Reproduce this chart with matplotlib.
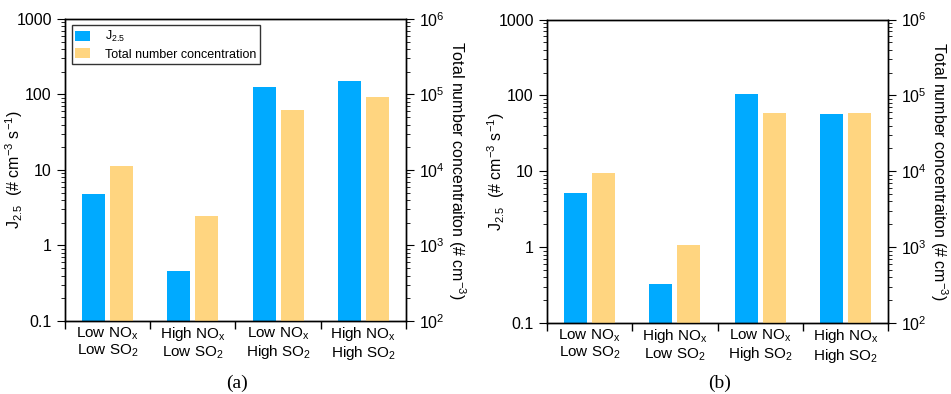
import matplotlib
matplotlib.use("Agg")
import matplotlib.pyplot as plt
import numpy as np
from matplotlib.ticker import LogLocator, NullFormatter, FixedLocator, FuncFormatter

plt.rcParams['font.family'] = ['Liberation Sans', 'DejaVu Sans']
plt.rcParams['mathtext.fontset'] = 'custom'
plt.rcParams['mathtext.rm'] = 'Liberation Sans'
plt.rcParams['mathtext.it'] = 'Liberation Sans'
plt.rcParams['mathtext.default'] = 'regular'

categories = ["Low NO$_x$\nLow SO$_2$", "High NO$_x$\nLow SO$_2$",
              "Low NO$_x$\nHigh SO$_2$", "High NO$_x$\nHigh SO$_2$"]
j25_a = [4.8, 0.456, 125, 152]
total_a = [1.14e4, 2.44e3, 6.15e4, 9.24e4]
j25_b = [5.2, 0.329, 103, 57.5]
total_b = [9.46e3, 1.07e3, 5.87e4, 5.87e4]
panel_labels = ["(a)", "(b)"]

blue = "#00AAFF"
orange = "#FFD580"

fig = plt.figure(figsize=(9.51, 3.94), dpi=100)
positions = [[0.0683, 0.1853, 0.3586, 0.7665], [0.5752, 0.180, 0.3586, 0.7705]]
data = [(j25_a, total_a), (j25_b, total_b)]

x = np.arange(len(categories))
w = 0.27
off = 0.165
fs = 11.5

for i, (pos, (j, t)) in enumerate(zip(positions, data)):
    ax = fig.add_axes(pos)
    ax2 = ax.twinx()
    ax.set_yscale('log')
    ax2.set_yscale('log')
    b1 = ax.bar(x - off, j, width=w, color=blue, label="J$_{2.5}$")
    b2 = ax2.bar(x + off, t, width=w, color=orange, label="Total number concentration")
    ax.set_ylim(0.1, 1000)
    ax2.set_ylim(1e2, 1e6)
    ax.set_xlim(-0.5, 3.5)
    ax.set_xticks(x)
    ax.set_xticklabels(categories, fontsize=11, linespacing=1.1)
    ax.tick_params(axis='x', length=0, pad=3)
    ax.set_xticks(np.arange(-0.5, 4, 1), minor=True)
    ax.tick_params(axis='x', which='minor', length=6, direction='out', width=1)
    ax.tick_params(axis='y', which='major', length=6, direction='out', labelsize=fs)
    ax.tick_params(axis='y', which='minor', length=3, direction='out')
    ax2.tick_params(axis='y', which='major', length=6, direction='out', labelsize=fs)
    ax2.tick_params(axis='y', which='minor', length=3, direction='out')
    ax.yaxis.set_major_locator(FixedLocator([0.1, 1, 10, 100, 1000]))
    ax.yaxis.set_major_formatter(FuncFormatter(lambda v, p: "%g" % v))
    ax.yaxis.set_minor_locator(LogLocator(base=10, subs=np.arange(2, 10)))
    ax.yaxis.set_minor_formatter(NullFormatter())
    ax2.yaxis.set_major_locator(FixedLocator([1e2, 1e3, 1e4, 1e5, 1e6]))
    ax2.yaxis.set_major_formatter(FuncFormatter(lambda v, p: "$10^{%d}$" % round(np.log10(v))))
    ax2.yaxis.set_minor_locator(LogLocator(base=10, subs=np.arange(2, 10)))
    ax2.yaxis.set_minor_formatter(NullFormatter())
    for a in (ax, ax2):
        for s in a.spines.values():
            s.set_linewidth(1.0)
    ax.set_ylabel("J$_{2.5}$  (# cm$^{-3}$ s$^{-1}$)", fontsize=fs)
    ax.yaxis.set_label_coords(-0.117, 0.5)
    ax2.set_ylabel("Total number concentraiton (# cm$^{-3}$)", fontsize=fs, rotation=270, va='center')
    ax2.yaxis.set_label_coords(1.15, 0.5)
    fig.text(pos[0] + pos[2] / 2 + 0.002, 0.028, panel_labels[i], ha='center', va='center',
             fontsize=14, family=['Liberation Serif'])
    if i == 0:
        leg = ax.legend([b1, b2], ["J$_{2.5}$", "Total number concentration"], loc='upper left',
                        bbox_to_anchor=(0.012, 0.987), fontsize=9, frameon=True, fancybox=False,
                        edgecolor='black', handlelength=1.2, handleheight=0.9, borderpad=0.3,
                        labelspacing=0.3, handletextpad=1.2, borderaxespad=0.2)
        leg.get_frame().set_linewidth(1.0)

fig.savefig("out.png", dpi=100)
